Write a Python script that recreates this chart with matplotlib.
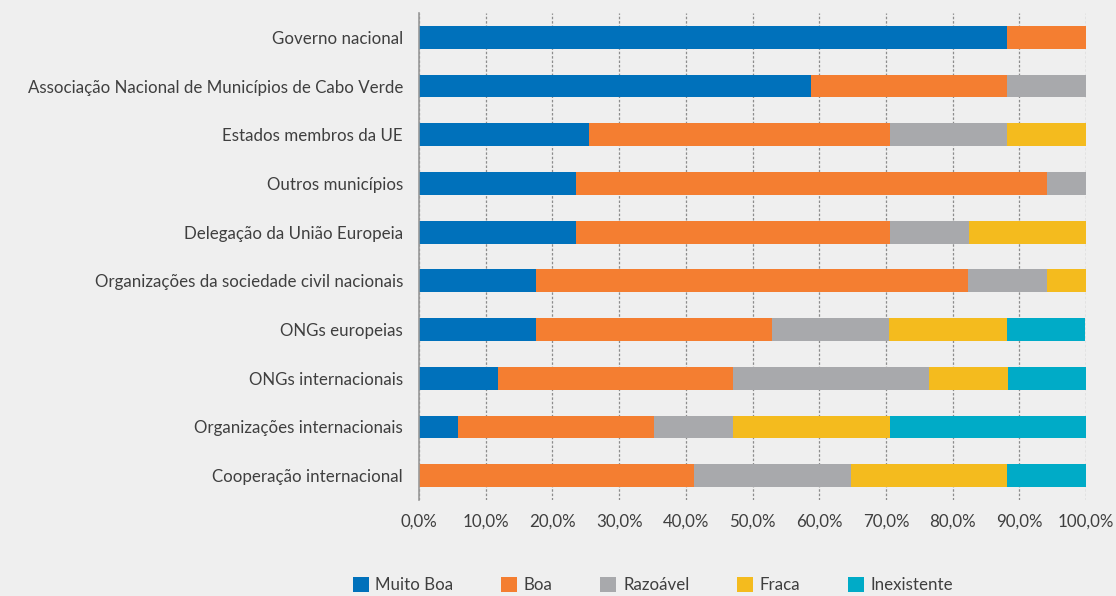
import matplotlib
matplotlib.use("Agg")
import matplotlib.pyplot as plt
import numpy as np
from matplotlib.ticker import FuncFormatter

plt.rcParams['font.family'] = ['Lato', 'DejaVu Sans']

categories = [
    "Governo nacional",
    "Associação Nacional de Municípios de Cabo Verde",
    "Estados membros da UE",
    "Outros municípios",
    "Delegação da União Europeia",
    "Organizações da sociedade civil nacionais",
    "ONGs europeias",
    "ONGs internacionais",
    "Organizações internacionais",
    "Cooperação internacional",
]

series_names = ["Muito Boa", "Boa", "Razoável", "Fraca", "Inexistente"]

muito_boa   = [88.2, 58.8, 25.5, 23.5, 23.5, 17.6, 17.6, 11.8, 5.9, 0.0]
boa         = [11.8, 29.4, 45.1, 70.6, 47.1, 64.7, 35.3, 35.3, 29.4, 41.2]
razoavel    = [0.0, 11.8, 17.6, 5.9, 11.8, 11.8, 17.6, 29.4, 11.8, 23.5]
fraca       = [0.0, 0.0, 11.8, 0.0, 17.6, 5.9, 17.6, 11.8, 23.5, 23.5]
inexistente = [0.0, 0.0, 0.0, 0.0, 0.0, 0.0, 11.8, 11.8, 29.4, 11.8]

colors = ["#0071bb", "#f47e31", "#a8a9ac", "#f4bb1e", "#00abc7"]
bg = "#efefef"
text_color = "#3f3f3f"
fs = 12.2

fig = plt.figure(figsize=(11.16, 5.96), dpi=100, facecolor=bg)
ax = fig.add_axes([419 / 1116, 96 / 596, 667 / 1116, 487 / 596], facecolor=bg)

y = np.arange(len(categories))
left = np.zeros(len(categories))
for name, vals, c in zip(series_names,
                         [muito_boa, boa, razoavel, fraca, inexistente],
                         colors):
    vals = np.array(vals)
    ax.barh(y, vals, left=left, height=0.47, color=c, label=name,
            edgecolor='none', zorder=3)
    left += vals

ax.set_xlim(0, 100)
ax.set_ylim(len(categories) - 0.5, -0.5)
ax.set_xticks(np.arange(0, 101, 10))
ax.xaxis.set_major_formatter(FuncFormatter(lambda v, p: f"{v:.1f}%".replace(".", ",")))
ax.set_yticks(y)
ax.set_yticklabels(categories)

ax.grid(axis='x', color='#8c8c8c', linestyle=(0, (2, 1.5)), linewidth=0.9, zorder=1)
ax.grid(axis='y', visible=False)
for s in ['top', 'right', 'bottom']:
    ax.spines[s].set_visible(False)
ax.spines['left'].set_color('#999999')
ax.spines['left'].set_linewidth(1.2)
ax.spines['left'].set_zorder(4)

ax.tick_params(axis='both', length=0, labelsize=fs, colors=text_color)
ax.tick_params(axis='y', pad=11.5)
ax.tick_params(axis='x', pad=10)

handles, labels = ax.get_legend_handles_labels()
leg = fig.legend(handles, labels, loc='center', bbox_to_anchor=(0.585, 0.0185),
                 ncol=5, frameon=False, fontsize=fs, handlelength=0.95,
                 handleheight=1.0, handletextpad=0.4, columnspacing=2.8,
                 labelcolor=text_color, borderpad=0.1)

fig.savefig("out.png", dpi=100, facecolor=bg)
